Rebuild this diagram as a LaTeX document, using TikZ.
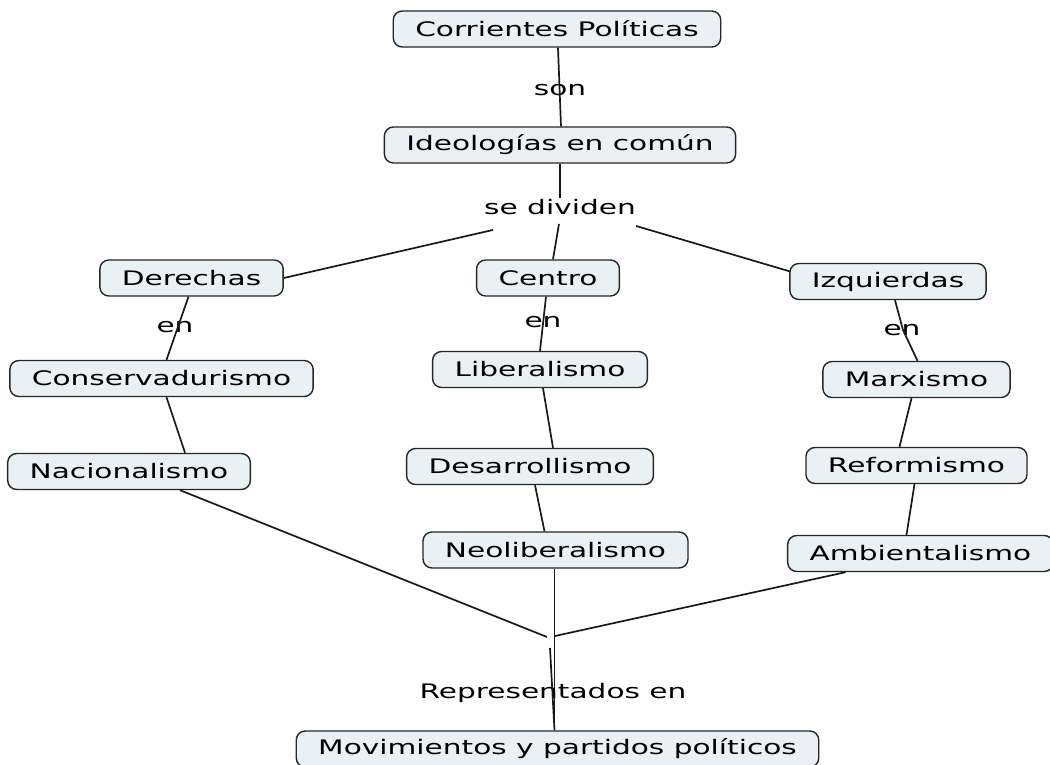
\documentclass[tikz,border=0pt]{standalone}
\usepackage{fontspec}
\setmainfont{DejaVu Sans}[FakeStretch=1.48]
\usetikzlibrary{calc}
\definecolor{boxfill}{HTML}{EAF1F4}
\definecolor{boxline}{HTML}{262626}
\begin{document}
\begin{tikzpicture}[x=1pt,y=-1pt,
  concept/.style={draw=boxline, line width=1.4pt, fill=boxfill, rounded corners=9pt,
    minimum height=36pt, inner xsep=22pt, inner ysep=0pt, font=\fontsize{20}{24}\selectfont},
  linkl/.style={inner sep=1pt, font=\fontsize{20}{24}\selectfont},
  conn/.style={line width=1.7pt, draw=black!90}]
\useasboundingbox (0,0) rectangle (1050,765);
% concepts
\node[concept] (corr) at (557,29) {Corrientes Políticas};
\node[concept] (ideo) at (560,145) {Ideologías en común};
\node[concept] (der)  at (191.5,278) {Derechas};
\node[concept] (cen)  at (548,278) {Centro};
\node[concept] (izq)  at (888,281.5) {Izquierdas};
\node[concept] (cons) at (161.5,378.5) {Conservadurismo};
\node[concept] (lib)  at (540,369.5) {Liberalismo};
\node[concept] (marx) at (916.5,379.5) {Marxismo};
\node[concept] (nac)  at (129,471.5) {Nacionalismo};
\node[concept] (des)  at (530,466.5) {Desarrollismo};
\node[concept] (ref)  at (916.5,465.5) {Reformismo};
\node[concept] (neo)  at (555.5,550) {Neoliberalismo};
\node[concept] (amb)  at (920.5,553.5) {Ambientalismo};
\node[concept] (mov)  at (557.5,749) {Movimientos y partidos políticos};
% linking phrases
\node[linkl] (son) at (560,90) {son};
\node[linkl] (sed) at (560,207) {se dividen};
\node[linkl] (en1) at (175,327) {en};
\node[linkl] (en2) at (543,322) {en};
\node[linkl] (en3) at (902,330) {en};
\node[linkl] (rep) at (553,693) {Representados en};
\coordinate (joinL) at (547,637);
\coordinate (joinR) at (555,636);
\coordinate (joinD) at (550,648);
% connectors
\draw[conn] ($(corr.south)+(1,0)$) -- ($(ideo.north)+(1,0)$);
\draw[conn] (ideo.south) -- (sed.north);
\draw[conn] ($(sed.south)+(-67,14)$) -- (der.east);
\draw[conn] ($(sed.south)+(-1,8)$) -- ($(cen.north)+(5,0)$);
\draw[conn] ($(sed.south)+(76,10)$) -- ($(izq.west)+(1,-10)$);
\draw[conn] ($(der.south)+(-3,0)$) -- ($(cons.north)+(5,0)$);
\draw[conn] ($(cons.south)+(5,0)$) -- ($(nac.north)+(56,0)$);
\draw[conn] ($(cen.south)+(-2,0)$) -- (lib.north);
\draw[conn] ($(lib.south)+(3,0)$) -- ($(des.north)+(23,0)$);
\draw[conn] ($(des.south)+(5,0)$) -- ($(neo.north)+(-11,0)$);
\draw[conn] ($(izq.south)+(7,0)$) -- ($(en3.center)+(1,0)$) -- ($(marx.north)+(1,0)$);
\draw[conn] ($(marx.south)+(-5,0)$) -- ($(ref.north)+(-17,0)$);
\draw[conn] ($(ref.south)+(-2,0)$) -- ($(amb.north)+(-14,0)$);
\draw[conn] ($(nac.south)+(51,0)$) -- (joinL);
\draw[conn] ($(amb.south)+(-75,0)$) -- (joinR);
\draw[conn] ($(neo.south)+(-1,0)$) -- ($(mov.north)+(-3,0)$);
\draw[conn] (joinD) -- ($(mov.north)+(-3,0)$);
\end{tikzpicture}
\end{document}
